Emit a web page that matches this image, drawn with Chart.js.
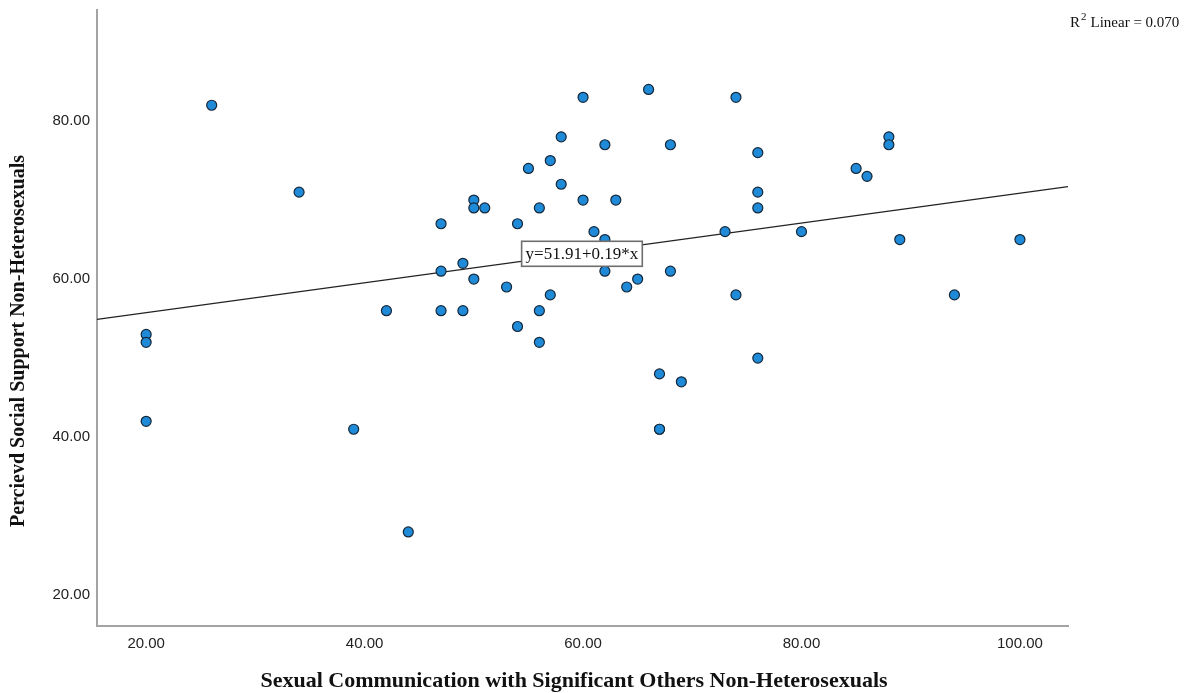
<!DOCTYPE html>
<html>
<head>
<meta charset="utf-8">
<script src="https://cdn.jsdelivr.net/npm/chart.js@4.4.1/dist/chart.umd.min.js"></script>
<style>
  html, body { margin: 0; padding: 0; background: #fff; }
  #wrap { width: 1198px; height: 693px; position: relative; }
</style>
</head>
<body>
<div id="wrap"><canvas id="chart"></canvas></div>
<script>
// values
const commScores = [20, 20, 20, 26, 34, 39, 42, 44, 47, 47, 47, 49, 49, 50, 50, 50, 51, 53, 54, 54,
  55, 56, 56, 56, 57, 57, 58, 58, 60, 60, 61, 62, 62, 62, 63, 64, 65, 66, 67, 67,
  67, 68, 68, 69, 73, 74, 74, 76, 76, 76, 76, 80, 85, 86, 88, 88, 89, 94, 100];
const supportScores = [53, 52, 42, 82, 71, 41, 56, 28, 67, 61, 56, 62, 56, 70, 69, 60, 69, 59, 67, 54,
  74, 69, 56, 52, 75, 58, 78, 72, 83, 70, 66, 77, 65, 61, 70, 59, 60, 84, 48, 41,
  41, 77, 61, 47, 66, 83, 58, 76, 71, 69, 50, 66, 74, 73, 78, 77, 65, 58, 65];

// fit line ends, as drawn at the plot edges
const fitX = [15.5, 104.4];
const fitY = [54.9, 71.7];

const xTicks = [20, 40, 60, 80, 100];
const yTicks = [20, 40, 60, 80];

const xTitle = 'Sexual Communication with Significant Others Non-Heterosexuals';
const yTitle = 'Percievd Social Support Non-Heterosexuals';
const eqLabel = 'y=51.91+0.19*x';
const eqAt = [59.9, 63.2];
const r2Value = '0.070';

const points = commScores.map((x, i) => ({ x: x, y: supportScores[i] }));
const fitLine = fitX.map((x, i) => ({ x: x, y: fitY[i] }));

const overlay = {
  id: 'overlay',
  afterDatasetsDraw(chart) {
    const ctx = chart.ctx;
    const xs = chart.scales.x, ys = chart.scales.y;
    // equation box
    const cx = xs.getPixelForValue(eqAt[0]);
    const cy = ys.getPixelForValue(eqAt[1]);
    ctx.save();
    ctx.font = '17px "Liberation Serif", serif';
    const w = ctx.measureText(eqLabel).width + 8;
    const h = 25;
    ctx.fillStyle = '#fff';
    ctx.fillRect(cx - w / 2, cy - h / 2, w, h);
    ctx.strokeStyle = '#6e6e6e';
    ctx.lineWidth = 1.6;
    ctx.strokeRect(cx - w / 2, cy - h / 2, w, h);
    ctx.fillStyle = '#111';
    ctx.textAlign = 'center';
    ctx.textBaseline = 'middle';
    ctx.fillText(eqLabel, cx, cy + 1);
    ctx.restore();
  },
  afterDraw(chart) {
    const ctx = chart.ctx;
    ctx.save();
    ctx.fillStyle = '#111';

    // axis titles
    ctx.font = 'bold 22px "Liberation Serif", serif';
    ctx.textAlign = 'center';
    ctx.textBaseline = 'middle';
    ctx.fillText(xTitle, 574, 681);
    ctx.save();
    ctx.translate(19, 341);
    ctx.rotate(-Math.PI / 2);
    ctx.font = 'bold 20px "Liberation Serif", serif';
    ctx.fillText(yTitle, 0, 0);
    ctx.restore();

    // R squared note, top right
    ctx.textAlign = 'left';
    ctx.textBaseline = 'alphabetic';
    let x = 1070;
    const y = 27;
    ctx.font = '15px "Liberation Serif", serif';
    ctx.fillText('R', x, y);
    x += ctx.measureText('R').width + 1;
    ctx.font = '11px "Liberation Serif", serif';
    ctx.fillText('2', x, y - 7);
    x += ctx.measureText('2').width + 4;
    ctx.font = '15px "Liberation Serif", serif';
    ctx.fillText('Linear = ' + r2Value, x, y);
    ctx.restore();
  }
};

new Chart(document.getElementById('chart'), {
  type: 'scatter',
  data: {
    datasets: [
      {
        type: 'line',
        data: fitLine,
        borderColor: '#222',
        borderWidth: 1.2,
        pointRadius: 0,
        fill: false,
        order: 1
      },
      {
        data: points,
        backgroundColor: '#1f8ad8',
        borderColor: '#15283a',
        borderWidth: 1.2,
        pointRadius: 5,
        pointHoverRadius: 5,
        order: 0
      }
    ]
  },
  options: {
    responsive: true,
    maintainAspectRatio: false,
    animation: false,
    layout: { padding: { top: 10, right: 130, left: 0, bottom: 0 } },
    plugins: { legend: { display: false }, tooltip: { enabled: false } },
    scales: {
      x: {
        type: 'linear',
        min: 15.5,
        max: 104.4,
        afterBuildTicks: s => { s.ticks = xTicks.map(v => ({ value: v })); },
        afterFit: s => { s.height = 67; s.paddingLeft = 0; s.paddingRight = 0; },
        grid: { display: false, drawTicks: false },
        border: { display: true, color: '#a3a3a3', width: 2 },
        ticks: {
          color: '#222',
          padding: 9,
          maxRotation: 0,
          font: { family: '"Liberation Sans", sans-serif', size: 15 },
          callback: v => Number(v).toFixed(2)
        }
      },
      y: {
        type: 'linear',
        min: 16.1,
        max: 94.05,
        afterBuildTicks: s => { s.ticks = yTicks.map(v => ({ value: v })); },
        afterFit: s => { s.width = 97; s.paddingTop = 0; s.paddingBottom = 0; },
        grid: { display: false, drawTicks: false },
        border: { display: true, color: '#a3a3a3', width: 2 },
        ticks: {
          color: '#222',
          padding: 7,
          font: { family: '"Liberation Sans", sans-serif', size: 15 },
          callback: v => Number(v).toFixed(2)
        }
      }
    }
  },
  plugins: [overlay]
});
</script>
</body>
</html>
